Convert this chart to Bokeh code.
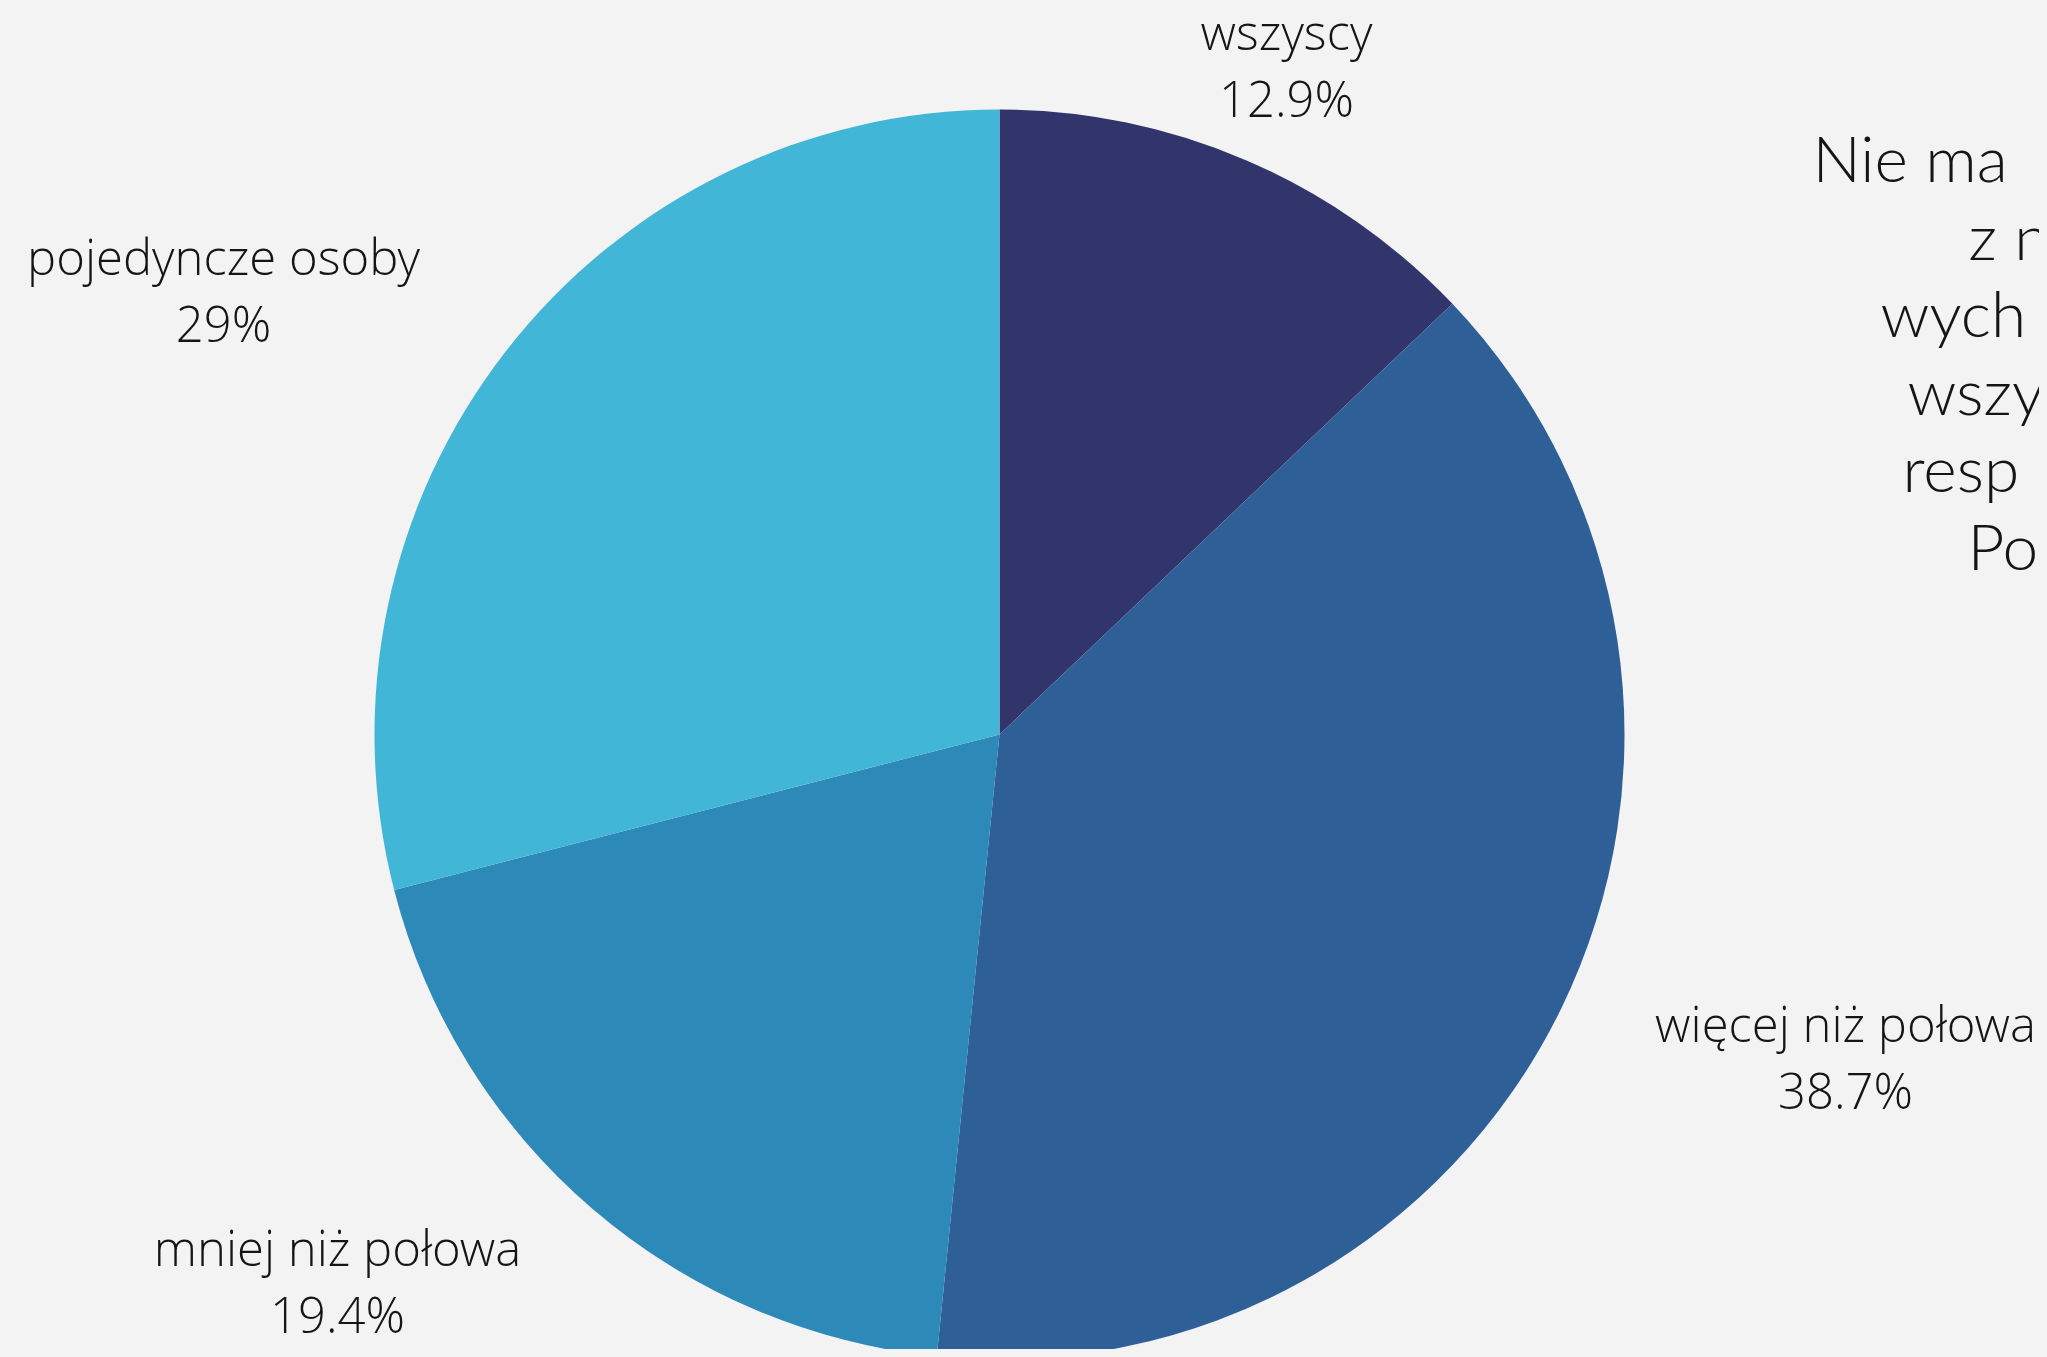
import numpy as np
from bokeh.plotting import figure
from bokeh.models import Range1d, ColumnDataSource
from bokeh.core.properties import value
from bokeh.embed import file_html
from bokeh.resources import INLINE

# ---- data ----
categories = ["wszyscy", "więcej niż połowa", "mniej niż połowa", "pojedyncze osoby"]
values = [12.9, 38.7, 19.4, 29.0]
colors = ["#31356B", "#2E5F97", "#2D8AB8", "#42B6D6"]
title_lines = ["Nie ma", "z n", "wych", "wszy", "resp", "Po"]

# ---- layout (page pixel coordinates; the figure sits at an 8px offset) ----
W, H = 2031, 1341
OFF = 8
BG = "#F2F3F2"
TOP = 1357
center_px = (999, 734)
radius = 625
label_anchor = [(1286, 50), (1845, 1042), (337, 1266), (223, 275)]  # centre x, first baseline
label_gap = 67
LABEL_FS = 49
title_x = [1812, 1968, 1880, 1907, 1902, 1967]
title_y0, title_gap = 182, 77.6
TITLE_FS = 64
BASE_FIX = 0.39  # renderer baseline correction (fraction of font size)


def fx(x):
    return x - OFF


def fy(y, fs=0):
    return TOP - (y - OFF) + BASE_FIX * fs


p = figure(width=W, height=H,
           x_range=Range1d(0, W), y_range=Range1d(TOP - H, TOP),
           output_backend="svg", toolbar_location=None, min_border=0,
           x_axis_location=None, y_axis_location=None,
           background_fill_color=BG, border_fill_color=BG, outline_line_color=None)
p.grid.visible = False

vals = np.array(values, dtype=float)
frac = vals / vals.sum()
cum = np.concatenate([[0], np.cumsum(frac)])
start = np.pi / 2 - 2 * np.pi * cum[:-1]
end = np.pi / 2 - 2 * np.pi * cum[1:]

src = ColumnDataSource(dict(cat=categories, val=values, start=start, end=end, color=colors,
                            x=[fx(center_px[0])] * len(values), y=[fy(center_px[1])] * len(values)))
p.wedge(x="x", y="y", radius=radius, start_angle="start", end_angle="end",
        direction="clock", fill_color="color", line_color=None, source=src)

pct = [f"{v:g}%" for v in values]
lx = [fx(a[0]) for a in label_anchor]
ly1 = [fy(a[1], LABEL_FS) for a in label_anchor]
ly2 = [fy(a[1] + label_gap, LABEL_FS) for a in label_anchor]
lab_src = ColumnDataSource(dict(x=lx, y1=ly1, y2=ly2, cat=categories, pct=pct))
for col in ("y1", "y2"):
    p.text(x="x", y=col, text="cat" if col == "y1" else "pct", source=lab_src,
           text_align="center", text_baseline="alphabetic",
           text_font=value("Open Sans Light"), text_font_size=f"{LABEL_FS}px",
           text_color="#151515")

tx = [fx(x) for x in title_x]
ty = [fy(title_y0 + i * title_gap, TITLE_FS) for i in range(len(title_lines))]
p.text(x=tx, y=ty, text=title_lines, text_align="left", text_baseline="alphabetic",
       text_font=value("Lato Light"), text_font_size=f"{TITLE_FS}px", text_color="#151515")

html = file_html(p, INLINE)
head, sep, rest = html.partition("</head>")
rest = rest.replace("<body>", f'<body style="margin:8px;background:{BG}">', 1)
open("out.html", "w").write(head + sep + rest)
